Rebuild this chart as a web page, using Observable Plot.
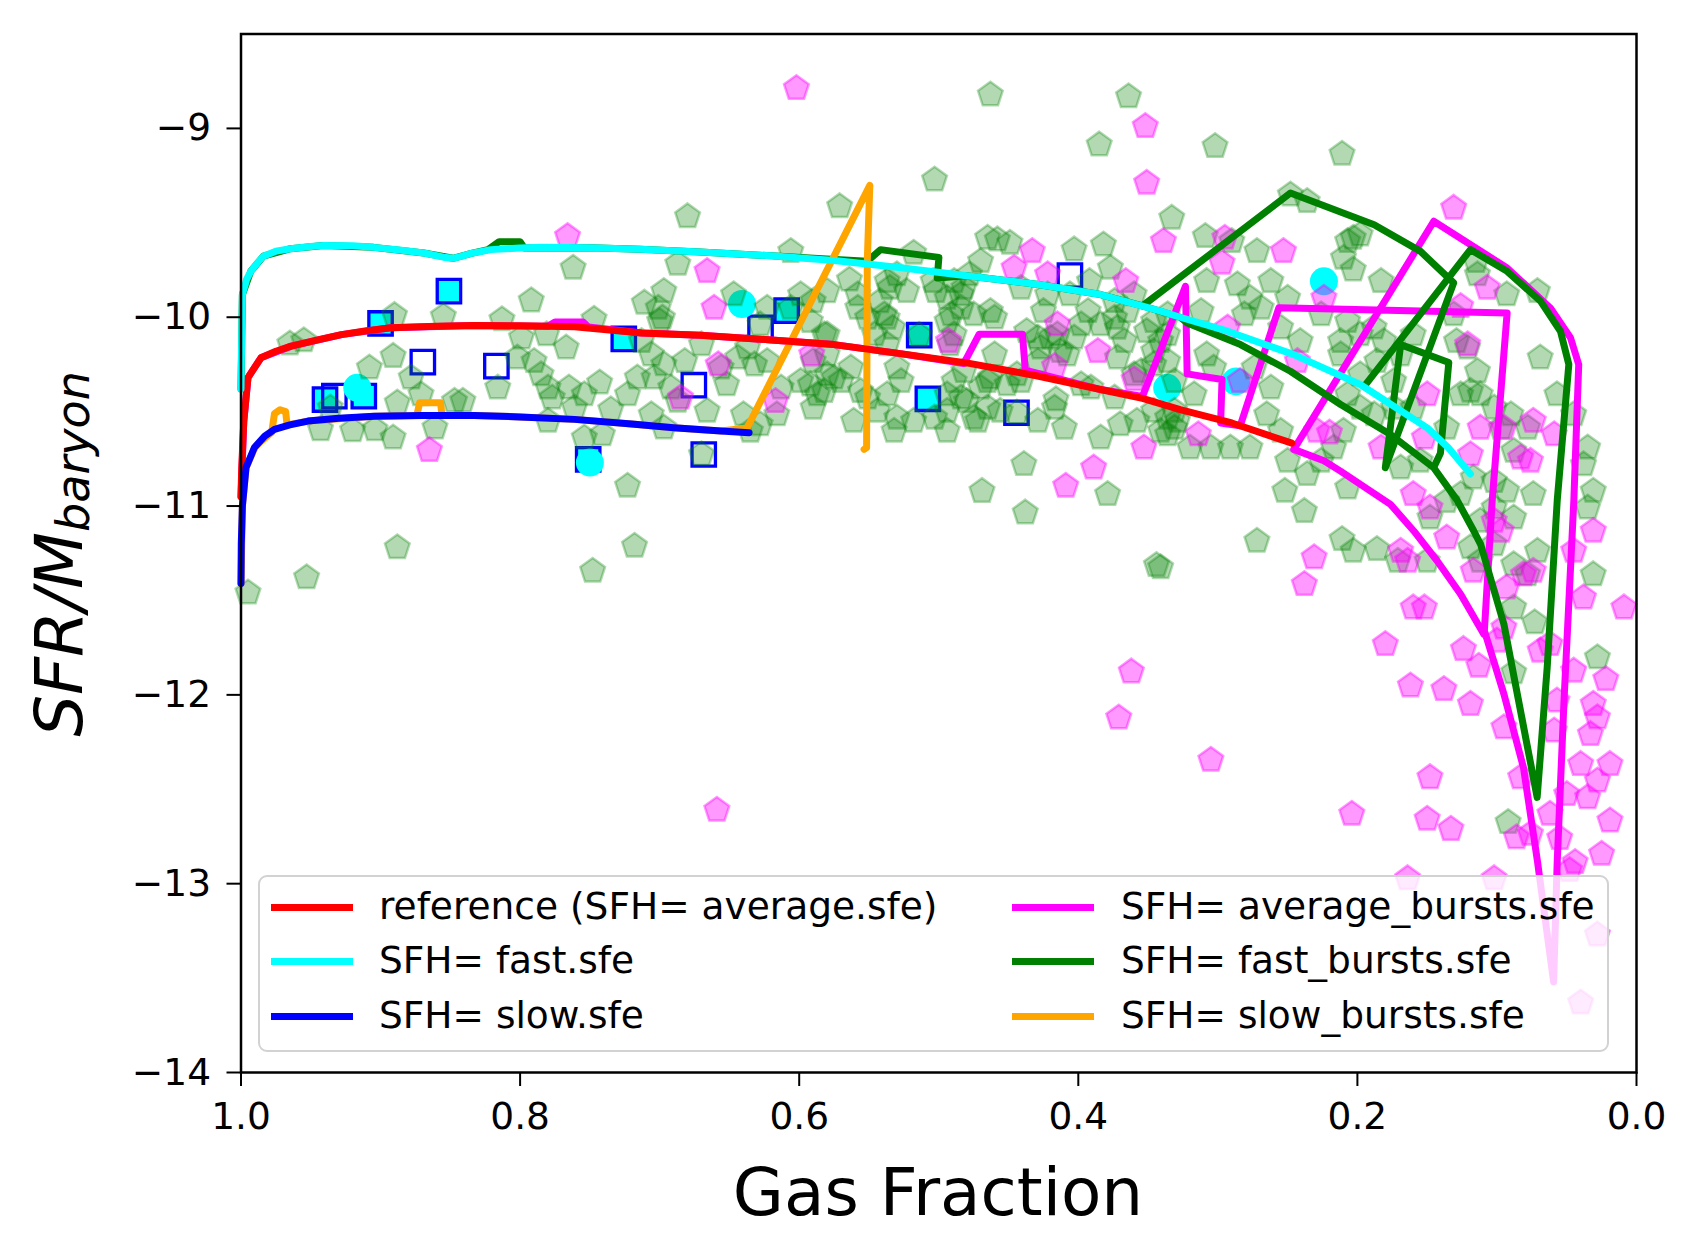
<!DOCTYPE html>
<html><head><meta charset="utf-8">
<script src="https://cdn.jsdelivr.net/npm/d3@7"></script>
<script src="https://cdn.jsdelivr.net/npm/@observablehq/plot@0.6"></script>
<style>
body{margin:0;background:#fff;font-family:"DejaVu Sans";}
#wrap{position:relative;width:1698px;height:1256px;overflow:hidden;}
#legend{position:absolute;left:258px;top:875px;width:1347px;height:173px;border:2px solid #d2d2d2;border-radius:9px;background:rgba(255,255,255,0.8);}
.item{position:absolute;font-size:37.5px;line-height:40px;height:40px;white-space:nowrap;color:#000;font-family:"DejaVu Sans";}
.sw{position:absolute;height:7px;width:82px;}
</style></head><body><div id="wrap"><div id="legend"></div></div>
<script>
// ---- data (gas fraction, log SFR/M_baryon) ----
const referenceLine = [[1.0,-10.95],[0.9995,-10.8],[0.998,-10.55],[0.995,-10.32],[0.9857,-10.215],[0.975,-10.18],[0.964,-10.153],[0.945,-10.12],[0.928,-10.092],[0.91,-10.072],[0.8925,-10.056],[0.86,-10.048],[0.833,-10.044],[0.80,-10.045],[0.761,-10.051],[0.713,-10.083],[0.671,-10.095],[0.62,-10.12],[0.575,-10.145],[0.53,-10.19],[0.48,-10.242],[0.43,-10.31],[0.384,-10.383],[0.354,-10.43],[0.327,-10.489],[0.29,-10.56],[0.247,-10.667]];
const fastLine = [[1.0,-10.38],[0.9995,-10.1],[0.999,-9.88],[0.996,-9.80],[0.993,-9.757],[0.988,-9.71],[0.984,-9.677],[0.975,-9.65],[0.9645,-9.637],[0.95,-9.625],[0.941,-9.62],[0.92,-9.622],[0.905,-9.63],[0.885,-9.645],[0.869,-9.66],[0.855,-9.682],[0.848,-9.688],[0.843,-9.679],[0.835,-9.662],[0.821,-9.642],[0.80,-9.633],[0.785,-9.63],[0.75,-9.632],[0.714,-9.64],[0.671,-9.654],[0.62,-9.675],[0.575,-9.70],[0.53,-9.735],[0.48,-9.78],[0.43,-9.825],[0.384,-9.88],[0.341,-9.968],[0.327,-10.0],[0.293,-10.074],[0.246,-10.197],[0.198,-10.356],[0.15,-10.586],[0.135,-10.69],[0.119,-10.83]];
const slowLine = [[1.0,-11.41],[0.9998,-11.2],[0.999,-11.0],[0.9964,-10.797],[0.9904,-10.69],[0.983,-10.63],[0.976,-10.594],[0.965,-10.57],[0.952,-10.55],[0.93,-10.535],[0.9045,-10.524],[0.87,-10.52],[0.833,-10.52],[0.80,-10.528],[0.761,-10.541],[0.72,-10.565],[0.69,-10.585],[0.656,-10.603],[0.636,-10.612]];
const avgBurstsLine = [[1.0,-10.95],[0.998,-10.55],[0.995,-10.32],[0.9857,-10.215],[0.964,-10.153],[0.928,-10.092],[0.8925,-10.056],[0.833,-10.044],[0.78,-10.048],[0.775,-10.025],[0.755,-10.025],[0.751,-10.052],[0.713,-10.083],[0.671,-10.095],[0.62,-10.12],[0.575,-10.145],[0.53,-10.19],[0.482,-10.245],[0.471,-10.09],[0.44,-10.09],[0.438,-10.28],[0.384,-10.383],[0.354,-10.42],[0.3232,-9.836],[0.322,-10.30],[0.297,-10.33],[0.298,-10.56],[0.284,-10.575],[0.2563,-9.95],[0.0927,-9.977],[0.1034,-10.97],[0.109,-11.66],[0.095,-11.996],[0.081,-12.385],[0.071,-12.88],[0.0594,-13.52],[0.0568,-12.88],[0.052,-12.04],[0.0449,-10.97],[0.0414,-10.25],[0.0473,-10.109],[0.0617,-9.951],[0.0927,-9.739],[0.1453,-9.492],[0.2456,-10.70],[0.224,-10.76],[0.2121,-10.815],[0.1763,-10.991],[0.1596,-11.132],[0.1428,-11.291],[0.126,-11.467],[0.1094,-11.679]];
const fastBurstsLineA = [[1.0,-10.38],[0.999,-9.88],[0.993,-9.757],[0.984,-9.677],[0.9645,-9.637],[0.941,-9.62],[0.905,-9.63],[0.869,-9.66],[0.848,-9.688],[0.835,-9.662],[0.823,-9.642],[0.815,-9.60],[0.80,-9.60],[0.797,-9.633],[0.75,-9.632],[0.714,-9.64],[0.671,-9.654],[0.62,-9.675],[0.5513,-9.704],[0.5417,-9.642],[0.4999,-9.683],[0.5011,-9.792],[0.48,-9.78],[0.43,-9.825],[0.384,-9.88],[0.354,-9.94],[0.248,-9.342],[0.188,-9.51],[0.155,-9.65],[0.131,-9.818],[0.180,-10.797],[0.169,-10.145],[0.1345,-10.24],[0.1405,-10.72],[0.145,-10.79]];
const fastBurstsLineB = [[0.354,-9.94],[0.327,-10.0],[0.322,-10.03],[0.2838,-10.145],[0.248,-10.286],[0.212,-10.462],[0.1763,-10.621],[0.1453,-10.797],[0.1285,-10.97],[0.1166,-11.132],[0.1117,-11.203],[0.095,-11.626],[0.0712,-12.543],[0.064,-11.855],[0.0568,-10.97],[0.0485,-10.25],[0.0545,-10.074],[0.0688,-9.915],[0.0927,-9.757],[0.119,-9.642],[0.194,-10.356]];
const slowBurstsLine = [[1.0,-11.41],[0.999,-11.0],[0.9964,-10.797],[0.99,-10.69],[0.986,-10.66],[0.978,-10.61],[0.976,-10.51],[0.972,-10.49],[0.968,-10.50],[0.967,-10.57],[0.952,-10.55],[0.9045,-10.524],[0.874,-10.52],[0.872,-10.453],[0.857,-10.453],[0.856,-10.52],[0.833,-10.52],[0.80,-10.528],[0.761,-10.541],[0.72,-10.565],[0.69,-10.585],[0.656,-10.603],[0.6373,-10.586],[0.5494,-9.302],[0.5512,-9.70],[0.5517,-10.691],[0.5535,-10.70]];

const greenPoints = [[0.680,-9.466],[0.762,-9.739],[0.687,-9.718],[0.792,-9.912],[0.711,-9.924],[0.697,-9.862],[0.701,-9.951],[0.700,-10.021],[0.698,-10.003],[0.890,-9.989],[0.855,-9.995],[0.813,-10.012],[0.747,-10.009],[0.965,-10.141],[0.955,-10.123],[0.891,-10.206],[0.908,-10.268],[0.799,-10.109],[0.781,-10.092],[0.767,-10.162],[0.802,-10.215],[0.790,-10.233],[0.785,-10.303],[0.780,-10.374],[0.777,-10.427],[0.780,-10.550],[0.765,-10.374],[0.754,-10.409],[0.743,-10.347],[0.761,-10.480],[0.754,-10.638],[0.741,-10.621],[0.735,-10.489],[0.723,-10.409],[0.716,-10.321],[0.706,-10.198],[0.713,-10.127],[0.697,-10.250],[0.704,-10.321],[0.692,-10.374],[0.687,-10.444],[0.706,-10.515],[0.697,-10.585],[0.670,-10.145],[0.682,-10.233],[0.666,-10.497],[0.670,-10.727],[0.723,-10.894],[0.878,-10.321],[0.871,-10.409],[0.888,-10.453],[0.847,-10.444],[0.841,-10.444],[0.816,-10.374],[0.861,-10.585],[0.891,-10.638],[0.904,-10.594],[0.920,-10.600],[0.943,-10.594],[0.936,-10.480],[0.888,-11.220],[0.953,-11.379],[0.995,-11.459],[0.718,-11.212],[0.748,-11.344],
[0.463,-8.822],[0.364,-8.831],[0.385,-9.086],[0.503,-9.272],[0.571,-9.413],[0.333,-9.474],[0.606,-9.651],[0.518,-9.660],[0.465,-9.580],[0.458,-9.589],[0.449,-9.607],[0.403,-9.642],[0.382,-9.616],[0.377,-9.739],[0.564,-9.801],[0.558,-9.880],[0.530,-9.774],[0.535,-9.845],[0.523,-9.862],[0.502,-9.862],[0.478,-9.774],[0.470,-9.704],[0.484,-9.880],[0.491,-9.986],[0.475,-9.986],[0.460,-10.003],[0.441,-9.845],[0.422,-9.880],[0.425,-9.968],[0.406,-9.880],[0.393,-9.968],[0.374,-9.915],[0.365,-9.968],[0.384,-10.039],[0.367,-10.127],[0.351,-10.074],[0.336,-10.092],[0.429,-10.109],[0.415,-10.092],[0.408,-10.198],[0.429,-10.233],[0.441,-10.339],[0.460,-10.198],[0.465,-10.339],[0.482,-10.286],[0.494,-10.409],[0.480,-10.445],[0.465,-10.480],[0.475,-10.533],[0.456,-10.497],[0.429,-10.550],[0.416,-10.436],[0.410,-10.586],[0.384,-10.638],[0.370,-10.568],[0.358,-10.550],[0.346,-10.497],[0.374,-10.427],[0.391,-10.374],[0.360,-10.303],[0.341,-10.603],[0.331,-10.497],[0.336,-10.233],[0.331,-10.339],[0.346,-10.180],[0.372,-10.057],[0.360,-9.880],[0.336,-9.986],[0.539,-9.986],[0.546,-10.092],[0.537,-10.145],[0.530,-10.268],[0.527,-10.339],[0.537,-10.409],[0.544,-10.497],[0.530,-10.533],[0.532,-10.603],[0.551,-10.427],[0.561,-10.550],[0.570,-10.339],[0.580,-10.303],[0.587,-10.409],[0.599,-10.339],[0.590,-10.233],[0.580,-10.198],[0.592,-10.021],[0.582,-10.092],[0.599,-9.880],[0.606,-9.951],[0.623,-9.951],[0.628,-10.039],[0.637,-10.162],[0.632,-10.251],[0.644,-10.215],[0.656,-10.268],[0.652,-10.356],[0.640,-10.515],[0.635,-10.603],[0.616,-10.515],[0.613,-10.374],[0.590,-10.480],[0.518,-10.550],[0.503,-10.533],[0.494,-10.603],[0.472,-10.550],[0.417,-10.480],[0.439,-10.779],[0.469,-10.921],[0.438,-11.035],[0.379,-10.938],[0.647,-9.880],[0.392,-9.810],
[0.302,-9.095],[0.211,-9.136],[0.309,-9.571],[0.290,-9.598],[0.272,-9.651],[0.308,-9.809],[0.286,-9.827],[0.262,-9.809],[0.250,-9.898],[0.277,-9.898],[0.269,-9.951],[0.281,-9.986],[0.312,-9.968],[0.308,-10.198],[0.303,-10.268],[0.317,-10.409],[0.329,-10.550],[0.336,-10.621],[0.320,-10.691],[0.305,-10.691],[0.291,-10.691],[0.277,-10.691],[0.265,-10.515],[0.255,-10.603],[0.274,-10.268],[0.262,-10.374],[0.255,-10.056],[0.241,-10.127],[0.226,-9.986],[0.207,-10.021],[0.212,-10.127],[0.198,-10.092],[0.188,-10.056],[0.181,-10.127],[0.207,-9.598],[0.203,-9.580],[0.210,-9.686],[0.203,-9.748],[0.183,-9.809],[0.212,-10.198],[0.198,-10.303],[0.186,-10.233],[0.169,-10.198],[0.160,-10.092],[0.174,-10.339],[0.207,-10.409],[0.198,-10.480],[0.188,-10.515],[0.174,-10.480],[0.160,-10.480],[0.210,-10.603],[0.217,-10.691],[0.226,-10.762],[0.236,-10.832],[0.250,-10.762],[0.252,-10.920],[0.238,-11.027],[0.207,-10.903],[0.272,-11.185],[0.211,-11.176],[0.203,-11.238],[0.186,-11.229],[0.171,-11.291],[0.169,-10.797],[0.155,-10.762],[0.136,-10.586],[0.126,-10.409],[0.119,-10.391],[0.114,-10.286],[0.121,-10.162],[0.129,-10.127],[0.112,-10.409],[0.102,-10.480],[0.090,-10.515],[0.078,-10.586],[0.097,-10.586],[0.088,-10.709],[0.117,-10.850],[0.102,-10.868],[0.093,-10.920],[0.074,-10.938],[0.102,-11.009],[0.112,-11.079],[0.088,-11.062],[0.126,-10.938],[0.136,-10.974],[0.148,-11.062],[0.069,-10.215],[0.057,-10.409],[0.045,-10.515],[0.035,-10.691],[0.038,-10.780],[0.031,-10.920],[0.035,-11.009],[0.031,-11.362],[0.071,-11.238],[0.078,-11.362],[0.088,-11.309],[0.102,-11.203],[0.119,-11.220],[0.112,-11.291],[0.115,-9.704],[0.114,-9.774],[0.093,-9.880],[0.071,-9.862],[0.341,-11.326],[0.131,-9.986],[0.248,-9.351],[0.236,-9.386],[0.198,-9.563],
[0.150,-11.291],[0.088,-11.538],[0.073,-11.617],[0.028,-11.802],[0.088,-11.882],[0.092,-12.675],[0.344,-11.314]];
// extra overlapping points read from the dense core of the cloud
const greenPointsCore = [[0.558,-9.951],[0.551,-10.004],[0.542,-9.916],[0.537,-9.81],[0.537,-10.004],[0.533,-10.057],[0.580,-9.863],[0.590,-9.915],[0.580,-10.092],[0.592,-10.357],[0.582,-10.392],[0.575,-10.321],[0.563,-10.268],[0.556,-10.392],[0.623,-10.233],[0.628,-10.568],[0.504,-9.81],[0.514,-10.095],
[0.489,-9.81],[0.482,-9.845],[0.494,-9.898],[0.484,-9.951],[0.463,-9.968],[0.494,-10.021],[0.489,-10.092],[0.492,-10.145],[0.437,-10.074],[0.420,-10.109],[0.403,-10.109],[0.398,-10.039],[0.374,-10.004],[0.346,-10.021],[0.341,-10.127],[0.413,-10.180],[0.427,-10.162],[0.372,-10.215],[0.355,-10.286],[0.346,-10.251],[0.451,-10.356],[0.444,-10.303],[0.470,-10.374],[0.463,-10.321],[0.489,-10.339],[0.484,-10.427],[0.494,-10.497],[0.444,-10.506],[0.398,-10.356],[0.336,-10.533],[0.331,-10.586]];

const magentaPoints = [[0.766,-9.571],[0.666,-9.757],[0.661,-9.951],[0.865,-10.705],[0.685,-10.427],[0.658,-10.250],
[0.602,-8.787],[0.352,-8.989],[0.351,-9.289],[0.339,-9.598],[0.433,-9.651],[0.446,-9.739],[0.422,-9.774],[0.366,-9.810],[0.415,-10.039],[0.493,-10.127],[0.386,-10.180],[0.417,-10.260],[0.591,-10.198],[0.617,-10.445],[0.360,-10.330],[0.353,-10.691],[0.389,-10.797],[0.409,-10.894],
[0.131,-9.421],[0.295,-9.580],[0.297,-9.713],[0.253,-9.651],[0.224,-9.898],[0.126,-9.942],[0.107,-9.845],[0.121,-10.145],[0.150,-10.409],[0.112,-10.586],[0.095,-10.586],[0.074,-10.550],[0.059,-10.621],[0.083,-10.744],[0.076,-10.762],[0.119,-10.727],[0.152,-10.638],[0.183,-10.691],[0.220,-10.612],[0.229,-10.603],[0.314,-10.621],[0.243,-10.233],[0.293,-10.056],[0.284,-10.339],[0.160,-10.938],[0.148,-11.009],[0.136,-11.168],[0.231,-11.273],[0.238,-11.414],[0.169,-11.238],[0.164,-11.291],[0.160,-11.538],[0.152,-11.538],[0.102,-11.079],[0.097,-11.132],[0.081,-11.362],[0.074,-11.344],[0.093,-11.432],[0.045,-11.238],[0.031,-11.132],[0.038,-11.485],[0.009,-11.538],[0.117,-11.344],
[0.180,-11.732],[0.124,-11.758],[0.113,-11.847],[0.162,-11.952],[0.138,-11.970],[0.119,-12.049],[0.148,-12.437],[0.204,-12.631],[0.150,-12.658],[0.133,-12.711],[0.022,-11.917],[0.045,-11.873],[0.031,-12.049],[0.028,-12.120],[0.033,-12.208],[0.040,-12.367],[0.019,-12.367],[0.028,-12.455],[0.035,-12.543],[0.050,-12.526],[0.059,-12.190],[0.057,-12.031],[0.062,-11.732],[0.069,-11.767],[0.100,-11.714],[0.095,-11.644],[0.095,-12.173],[0.083,-12.437],[0.062,-12.631],[0.019,-12.667],[0.025,-12.843],[0.086,-12.755],[0.076,-12.737],
[0.362,-11.877],[0.371,-12.121],[0.305,-12.345],[0.055,-12.759],[0.044,-12.887],[0.164,-12.972],[0.102,-12.972],[0.048,-12.929],[0.028,-13.270],[0.040,-13.631],[0.659,-12.61]];

const openSquares = [[0.9398,-10.436],[0.9331,-10.418],[0.912,-10.418],[0.900,-10.033],[0.851,-9.862],[0.8697,-10.238],[0.817,-10.259],[0.7257,-10.115],[0.7512,-10.753],[0.6755,-10.36],[0.6684,-10.727],[0.6277,-10.056],[0.609,-9.965],[0.514,-10.095],[0.5078,-10.432],[0.4443,-10.506],[0.406,-9.779]];
const cyanSquares = [[0.9398,-10.436],[0.912,-10.418],[0.900,-10.033],[0.851,-9.862],[0.7257,-10.115],[0.7512,-10.753],[0.609,-9.965],[0.514,-10.095],[0.5078,-10.432]];
const cyanCircles = [[0.9167,-10.374],[0.641,-9.93],[0.3363,-10.374],[0.224,-9.81],[0.287,-10.34],[0.750,-10.77]];

const xTicks = [1.0, 0.8, 0.6, 0.4, 0.2, 0.0];
const yTicks = [-14, -13, -12, -11, -10, -9];

const legendItems = [
  {label: "reference (SFH= average.sfe)", color: "#ff0000", col: 0, row: 0},
  {label: "SFH= fast.sfe", color: "#00ffff", col: 0, row: 1},
  {label: "SFH= slow.sfe", color: "#0000ff", col: 0, row: 2},
  {label: "SFH= average_bursts.sfe", color: "#ff00ff", col: 1, row: 0},
  {label: "SFH= fast_bursts.sfe", color: "#008000", col: 1, row: 1},
  {label: "SFH= slow_bursts.sfe", color: "#ffa500", col: 1, row: 2}
];

// pentagon symbol
const pentagon = {
  draw(ctx, size) {
    const r = Math.sqrt(size / Math.PI);
    for (let i = 0; i < 5; i++) {
      const a = -Math.PI / 2 + i * 2 * Math.PI / 5;
      const x = r * Math.cos(a), y = r * Math.sin(a);
      if (i === 0) ctx.moveTo(x, y); else ctx.lineTo(x, y);
    }
    ctx.closePath();
  }
};

const X = d => d[0], Y = d => d[1];
const LW = 7;
const lineOpts = (color) => ({x: X, y: Y, stroke: color, strokeWidth: LW, strokeLinejoin: "round", strokeLinecap: "round"});

const chart = Plot.plot({
  width: 1698, height: 1256,
  marginLeft: 240.5, marginRight: 62, marginTop: 33.5, marginBottom: 184,
  x: {domain: [1, 0]},
  y: {domain: [-14, -8.5]},
  style: {fontFamily: "DejaVu Sans", fontSize: "37.5px", background: "white", color: "black", overflow: "visible"},
  marks: [
    Plot.dot(cyanSquares, {x: X, y: Y, symbol: "square", r: 13.2, fill: "#00ffff", stroke: "none"}),
    Plot.dot(openSquares, {x: X, y: Y, symbol: "square", r: 13.2, fill: "none", stroke: "#0000ff", strokeWidth: 3.3}),
    Plot.dot(cyanCircles, {x: X, y: Y, r: 14, fill: "#00ffff", stroke: "none"}),
    Plot.dot(greenPoints.concat(greenPointsCore), {x: X, y: Y, symbol: pentagon, r: 13, fill: "#008000", fillOpacity: 0.3, stroke: "#008000", strokeOpacity: 0.3, strokeWidth: 2.5}),
    Plot.dot(magentaPoints, {x: X, y: Y, symbol: pentagon, r: 13, fill: "#ff00ff", fillOpacity: 0.4, stroke: "#ff00ff", strokeOpacity: 0.4, strokeWidth: 2.5}),
    Plot.line(avgBurstsLine, lineOpts("#ff00ff")),
    Plot.line(fastBurstsLineB, lineOpts("#008000")),
    Plot.line(fastBurstsLineA, lineOpts("#008000")),
    Plot.line(slowBurstsLine, lineOpts("#ffa500")),
    Plot.line(referenceLine, lineOpts("#ff0000")),
    Plot.line(fastLine, lineOpts("#00ffff")),
    Plot.line(slowLine, lineOpts("#0000ff")),
    Plot.frame({stroke: "black", strokeWidth: 2.5}),
    Plot.axisX({ticks: xTicks, tickFormat: d3.format(".1f"), tickSize: 14, tickPadding: 16, strokeWidth: 2, fontSize: 37.5, label: null}),
    Plot.axisY({ticks: yTicks, tickFormat: d3.format("d"), tickSize: 14, tickPadding: 16, strokeWidth: 2, fontSize: 37.5, label: null})
  ]
});

const wrap = document.getElementById("wrap");
wrap.insertBefore(chart, wrap.firstChild);

// axis titles
const svg = d3.select(chart);
svg.append("text")
  .attr("x", 938).attr("y", 1215)
  .attr("text-anchor", "middle")
  .attr("font-family", "DejaVu Sans").attr("font-size", 66).attr("fill", "black")
  .text("Gas Fraction");
const yl = svg.append("text")
  .attr("transform", "translate(82,554) rotate(-90)")
  .attr("text-anchor", "middle")
  .attr("font-family", "DejaVu Sans").attr("font-style", "italic").attr("font-size", 66).attr("fill", "black");
yl.append("tspan").text("SFR/M");
yl.append("tspan").attr("font-size", 46).attr("dy", 6.5).text("baryon");

// legend
const legend = d3.select("#legend");
const rowY = [30, 84, 139];
const swX = [11, 752], txX = [119, 861];
for (const it of legendItems) {
  legend.append("div").attr("class", "sw")
    .style("left", swX[it.col] + "px").style("top", (rowY[it.row] - 3.5) + "px")
    .style("background", it.color);
  legend.append("div").attr("class", "item")
    .style("left", txX[it.col] + "px").style("top", (rowY[it.row] - 21) + "px")
    .text(it.label);
}
</script></body></html>
